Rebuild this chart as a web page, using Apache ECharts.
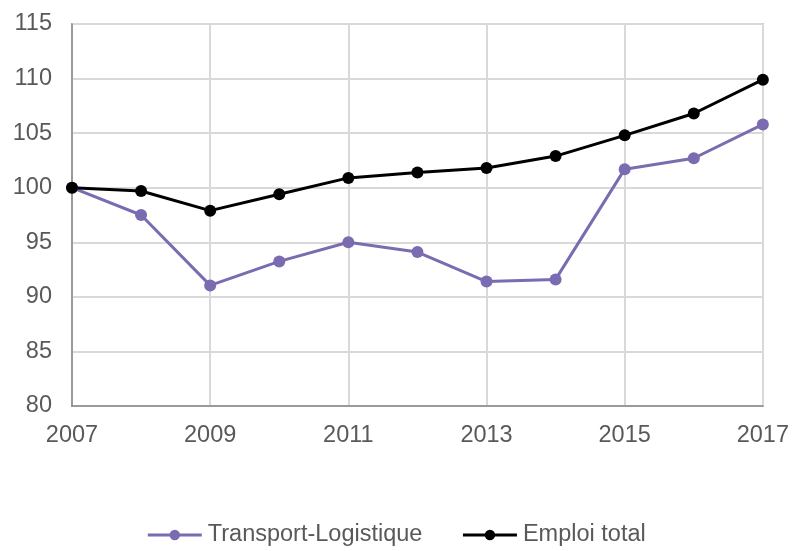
<!DOCTYPE html>
<html>
<head>
<meta charset="utf-8">
<script src="https://cdn.jsdelivr.net/npm/echarts@6/dist/echarts.min.js"></script>
<style>
html, body { margin: 0; padding: 0; background: #fff; }
#chart { width: 792px; height: 551px; }
</style>
</head>
<body>
<div id="chart"></div>
<script>
var years = ['2007', '2008', '2009', '2010', '2011', '2012', '2013', '2014', '2015', '2016', '2017'];
var transport = [100, 97.5, 91.05, 93.25, 95.0, 94.1, 91.4, 91.6, 101.7, 102.7, 105.8];   // Transport-Logistique
var emploi = [100, 99.7, 97.9, 99.4, 100.9, 101.4, 101.8, 102.9, 104.8, 106.8, 109.9];     // Emploi total
var yTicks = [80, 85, 90, 95, 100, 105, 110, 115];

var myChart = echarts.init(document.getElementById('chart'));
myChart.setOption({
    animation: false,
    textStyle: { fontFamily: 'Liberation Sans, Arial, sans-serif' },
    grid: {
        left: 72, right: 29, top: 24, bottom: 145,
        show: true, borderColor: '#858585', borderWidth: 1.5
    },
    legend: {
        top: 522,
        padding: 0,
        itemGap: 39,
        itemWidth: 54,
        itemHeight: 13,
        lineStyle: { width: 3 },
        textStyle: { fontSize: 23.5, color: '#595959', padding: [0, 0, 0, 1], lineHeight: 26 },
        data: ['Transport-Logistique', 'Emploi total']
    },
    xAxis: {
        type: 'category',
        boundaryGap: false,
        data: years,
        axisLine: { lineStyle: { color: '#858585', width: 1.5 } },
        axisTick: { show: false },
        axisLabel: { interval: 1, fontSize: 23.5, color: '#595959', margin: 18 },
        splitLine: { show: true, interval: 1, lineStyle: { color: '#d9d9d9', width: 2 } }
    },
    yAxis: {
        type: 'value',
        min: yTicks[0],
        max: yTicks[yTicks.length - 1],
        interval: 5,
        axisLine: { show: true, lineStyle: { color: '#858585', width: 1.5 } },
        axisTick: { show: false },
        axisLabel: { fontSize: 23.5, color: '#595959', margin: 20 },
        splitLine: { lineStyle: { color: '#d9d9d9', width: 2 } }
    },
    series: [
        {
            name: 'Transport-Logistique',
            type: 'line',
            data: transport,
            symbol: 'circle',
            symbolSize: 12,
            itemStyle: { color: '#7b6bb0' },
            lineStyle: { color: '#7b6bb0', width: 3 }
        },
        {
            name: 'Emploi total',
            type: 'line',
            data: emploi,
            symbol: 'circle',
            symbolSize: 12,
            itemStyle: { color: '#000000' },
            lineStyle: { color: '#000000', width: 3 }
        }
    ]
});
</script>
</body>
</html>
